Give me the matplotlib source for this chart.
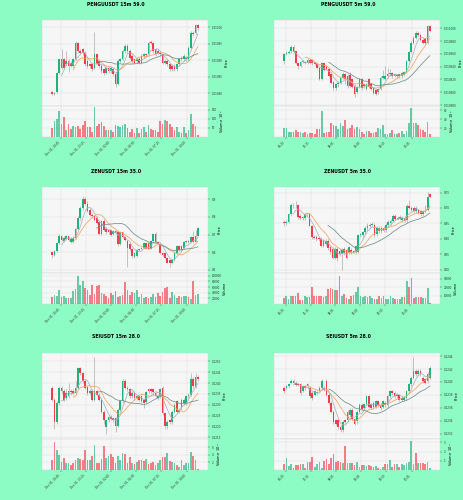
import matplotlib
matplotlib.use("Agg")
import matplotlib.pyplot as plt
import numpy as np
import pandas as pd
from matplotlib.ticker import MultipleLocator, FormatStrFormatter, FixedLocator

# ---------------- data ----------------
titles = ["PENGUUSDT 15m 59.0", "PENGUUSDT 5m 59.0",
          "ZENUSDT 15m 35.0", "ZENUSDT 5m 35.0",
          "SEIUSDT 15m 28.0", "SEIUSDT 5m 28.0"]

labels_15m = ["Dec 01, 20:45", "Dec 01, 23:15", "Dec 02, 02:00",
              "Dec 02, 04:30", "Dec 02, 07:15", "Dec 02, 10:00"]
labels_5m = ["06:20", "07:15", "08:05", "09:00", "09:50", "10:45"]

# PENGUUSDT 15m
p1_open = [0.010804, 0.010798, 0.010804, 0.010863, 0.010878, 0.010903, 0.010888, 0.010898, 0.010893, 0.010883,
           0.010903, 0.010952, 0.010928, 0.010933, 0.010923, 0.010898, 0.010888, 0.010888, 0.010878, 0.010918,
           0.010898, 0.010883, 0.010873, 0.010863, 0.010878, 0.010868, 0.010873, 0.010858, 0.010829, 0.010898,
           0.010903, 0.010928, 0.010943, 0.010928, 0.010913, 0.010903, 0.010898, 0.010905, 0.010893, 0.010913,
           0.010918, 0.010918, 0.010957, 0.010952, 0.010933, 0.010928, 0.010923, 0.010918, 0.010893, 0.010898,
           0.010888, 0.010883, 0.010883, 0.010873, 0.010888, 0.010908, 0.010903, 0.010908, 0.010903, 0.010938,
           0.010982, 0.010982, 0.011007]
p1_close = [0.010798, 0.010801, 0.010863, 0.010903, 0.010903, 0.010878, 0.010898, 0.010883, 0.010883, 0.010903,
            0.010952, 0.010928, 0.010923, 0.010923, 0.010888, 0.010883, 0.010883, 0.010873, 0.010918, 0.010893,
            0.010883, 0.010868, 0.010863, 0.010878, 0.010868, 0.010878, 0.010858, 0.010829, 0.010898, 0.010903,
            0.010928, 0.010943, 0.010928, 0.010908, 0.010898, 0.010893, 0.010905, 0.010893, 0.010913, 0.010918,
            0.010915, 0.010952, 0.010952, 0.010928, 0.010918, 0.010923, 0.010918, 0.010893, 0.010898, 0.010888,
            0.010873, 0.010873, 0.010873, 0.010888, 0.010903, 0.010903, 0.010913, 0.010903, 0.010938, 0.010982,
            0.010980, 0.011007, 0.010997]
p1_high = [0.010806, 0.010803, 0.010866, 0.010906, 0.010933, 0.010906, 0.010928, 0.010903, 0.010898, 0.010908,
           0.010960, 0.010955, 0.010933, 0.010938, 0.010928, 0.010903, 0.010893, 0.010893, 0.010987, 0.010923,
           0.010903, 0.010888, 0.010878, 0.010883, 0.010883, 0.010883, 0.010878, 0.010863, 0.010903, 0.010908,
           0.010933, 0.010948, 0.010948, 0.010933, 0.010918, 0.010908, 0.010910, 0.010910, 0.010918, 0.010923,
           0.010923, 0.010958, 0.010962, 0.010957, 0.010938, 0.010933, 0.010928, 0.010923, 0.010903, 0.010903,
           0.010893, 0.010888, 0.010888, 0.010893, 0.010908, 0.010913, 0.010918, 0.010913, 0.010943, 0.010988,
           0.010990, 0.011010, 0.011010]
p1_low = [0.010794, 0.010796, 0.010802, 0.010860, 0.010875, 0.010873, 0.010883, 0.010865, 0.010880, 0.010880,
          0.010900, 0.010923, 0.010918, 0.010915, 0.010883, 0.010878, 0.010878, 0.010868, 0.010873, 0.010888,
          0.010878, 0.010863, 0.010855, 0.010858, 0.010863, 0.010863, 0.010853, 0.010820, 0.010825, 0.010893,
          0.010900, 0.010923, 0.010923, 0.010903, 0.010893, 0.010888, 0.010893, 0.010888, 0.010888, 0.010908,
          0.010910, 0.010913, 0.010948, 0.010923, 0.010913, 0.010918, 0.010913, 0.010888, 0.010888, 0.010883,
          0.010868, 0.010868, 0.010868, 0.010868, 0.010883, 0.010898, 0.010898, 0.010898, 0.010898, 0.010933,
          0.010975, 0.010978, 0.010993]
p1_vol = [50, 90, 98, 140, 69, 110, 38, 72, 46, 58, 55, 58, 46, 64, 86, 55, 55, 30, 162, 60,
          69, 84, 58, 38, 38, 41, 26, 64, 60, 55, 67, 69, 50, 29, 46, 21, 50, 24, 46, 55,
          29, 64, 46, 38, 41, 29, 86, 69, 93, 86, 69, 55, 38, 55, 29, 21, 55, 21, 38, 127,
          72, 60, 12]

# PENGUUSDT 5m
p2_open = [0.010949, 0.010960, 0.010962, 0.010964, 0.010971, 0.010964, 0.010946, 0.010941, 0.010947, 0.010947,
           0.010945, 0.010951, 0.010951, 0.010946, 0.010944, 0.010938, 0.010921, 0.010945, 0.010941, 0.010936,
           0.010928, 0.010916, 0.010906, 0.010913, 0.010915, 0.010922, 0.010928, 0.010926, 0.010927, 0.010921,
           0.010910, 0.010900, 0.010908, 0.010921, 0.010913, 0.010905, 0.010921, 0.010913, 0.010906, 0.010903,
           0.010900, 0.010905, 0.010923, 0.010921, 0.010925, 0.010928, 0.010930, 0.010926, 0.010925, 0.010928,
           0.010925, 0.010927, 0.010932, 0.010949, 0.010963, 0.010977, 0.010985, 0.010992, 0.010990, 0.010982,
           0.010983, 0.010977, 0.011003]
p2_close = [0.010959, 0.010962, 0.010963, 0.010971, 0.010963, 0.010946, 0.010941, 0.010947, 0.010949, 0.010946,
            0.010951, 0.010946, 0.010945, 0.010944, 0.010938, 0.010921, 0.010945, 0.010935, 0.010936, 0.010926,
            0.010915, 0.010906, 0.010913, 0.010915, 0.010922, 0.010928, 0.010921, 0.010909, 0.010910, 0.010908,
            0.010897, 0.010908, 0.010921, 0.010906, 0.010910, 0.010913, 0.010908, 0.010905, 0.010899, 0.010897,
            0.010905, 0.010923, 0.010925, 0.010926, 0.010928, 0.010930, 0.010925, 0.010928, 0.010927, 0.010926,
            0.010930, 0.010931, 0.010949, 0.010963, 0.010977, 0.010985, 0.010992, 0.010990, 0.010982, 0.010977,
            0.010977, 0.011003, 0.010996]
p2_high = [0.010962, 0.010964, 0.010966, 0.010973, 0.010973, 0.010965, 0.010947, 0.010949, 0.010951, 0.010949,
           0.010953, 0.010953, 0.010952, 0.010947, 0.010945, 0.010940, 0.010947, 0.010946, 0.010942, 0.010937,
           0.010930, 0.010918, 0.010915, 0.010917, 0.010924, 0.010931, 0.010930, 0.010928, 0.010931, 0.010923,
           0.010913, 0.010910, 0.010923, 0.010923, 0.010915, 0.010915, 0.010923, 0.010915, 0.010908, 0.010905,
           0.010907, 0.010925, 0.010935, 0.010941, 0.010938, 0.010936, 0.010932, 0.010930, 0.010929, 0.010930,
           0.010932, 0.010933, 0.010951, 0.010965, 0.010980, 0.010988, 0.010995, 0.010995, 0.010993, 0.010984,
           0.010985, 0.011005, 0.011005]
p2_low = [0.010944, 0.010958, 0.010960, 0.010962, 0.010961, 0.010944, 0.010936, 0.010939, 0.010945, 0.010944,
          0.010944, 0.010944, 0.010943, 0.010942, 0.010936, 0.010919, 0.010919, 0.010933, 0.010934, 0.010924,
          0.010913, 0.010903, 0.010903, 0.010908, 0.010913, 0.010921, 0.010913, 0.010906, 0.010908, 0.010906,
          0.010892, 0.010897, 0.010906, 0.010903, 0.010906, 0.010903, 0.010906, 0.010903, 0.010897, 0.010895,
          0.010897, 0.010903, 0.010921, 0.010919, 0.010923, 0.010926, 0.010922, 0.010924, 0.010922, 0.010923,
          0.010923, 0.010925, 0.010930, 0.010947, 0.010961, 0.010975, 0.010983, 0.010987, 0.010980, 0.010975,
          0.010973, 0.010975, 0.010994]
p2_vol = [21, 21, 11, 12, 11, 16, 12, 12, 9, 11, 7, 9, 9, 7, 18, 18, 59, 9, 12, 11,
          31, 27, 25, 19, 31, 24, 38, 18, 21, 27, 18, 23, 18, 11, 7, 14, 13, 9, 9, 11,
          21, 18, 27, 7, 6, 9, 16, 6, 6, 9, 14, 6, 14, 32, 66, 31, 31, 27, 18, 16,
          12, 34, 6]

# ZENUSDT 15m
p3_open = [8.600, 8.586, 8.606, 8.651, 8.690, 8.665, 8.675, 8.690, 8.655, 8.655,
           8.678, 8.733, 8.792, 8.851, 8.900, 8.875, 8.841, 8.812, 8.802, 8.792,
           8.773, 8.704, 8.776, 8.733, 8.724, 8.724, 8.704, 8.718, 8.714, 8.645,
           8.714, 8.684, 8.665, 8.645, 8.620, 8.573, 8.576, 8.612, 8.620, 8.625,
           8.651, 8.651, 8.620, 8.665, 8.704, 8.655, 8.641, 8.596, 8.596, 8.567,
           8.557, 8.537, 8.557, 8.596, 8.635, 8.635, 8.625, 8.655, 8.665, 8.655,
           8.684, 8.659, 8.694]
p3_close = [8.586, 8.606, 8.651, 8.690, 8.671, 8.678, 8.690, 8.671, 8.675, 8.678,
            8.733, 8.792, 8.851, 8.900, 8.875, 8.831, 8.812, 8.802, 8.782, 8.763,
            8.704, 8.776, 8.724, 8.714, 8.714, 8.698, 8.718, 8.710, 8.645, 8.714,
            8.684, 8.671, 8.625, 8.616, 8.576, 8.596, 8.612, 8.620, 8.625, 8.651,
            8.620, 8.620, 8.665, 8.704, 8.655, 8.651, 8.596, 8.586, 8.567, 8.541,
            8.537, 8.557, 8.596, 8.635, 8.612, 8.612, 8.659, 8.665, 8.655, 8.684,
            8.655, 8.694, 8.737]
p3_high = [8.606, 8.612, 8.655, 8.704, 8.694, 8.694, 8.698, 8.694, 8.684, 8.690,
           8.737, 8.802, 8.860, 8.920, 8.910, 8.890, 8.851, 8.822, 8.812, 8.802,
           8.782, 8.782, 8.786, 8.743, 8.733, 8.733, 8.724, 8.724, 8.724, 8.718,
           8.718, 8.690, 8.671, 8.651, 8.625, 8.600, 8.616, 8.625, 8.631, 8.655,
           8.655, 8.655, 8.671, 8.710, 8.714, 8.659, 8.645, 8.600, 8.600, 8.573,
           8.561, 8.561, 8.600, 8.641, 8.641, 8.641, 8.665, 8.671, 8.671, 8.690,
           8.718, 8.724, 8.743]
p3_low = [8.567, 8.580, 8.600, 8.645, 8.665, 8.659, 8.671, 8.665, 8.651, 8.651,
          8.675, 8.724, 8.782, 8.841, 8.865, 8.825, 8.802, 8.792, 8.776, 8.757,
          8.698, 8.698, 8.718, 8.704, 8.704, 8.690, 8.698, 8.704, 8.635, 8.641,
          8.678, 8.665, 8.518, 8.606, 8.567, 8.567, 8.573, 8.606, 8.616, 8.620,
          8.616, 8.616, 8.616, 8.659, 8.651, 8.645, 8.590, 8.580, 8.561, 8.537,
          8.518, 8.531, 8.551, 8.590, 8.606, 8.606, 8.620, 8.651, 8.651, 8.651,
          8.651, 8.655, 8.690]
p3_vol = [24000, 32000, 30000, 48000, 25000, 27000, 21500, 21500, 21500, 45000,
          54000, 99000, 67000, 81000, 56000, 51000, 32000, 68000, 34000, 65000,
          68000, 39000, 34000, 27000, 21500, 40000, 32000, 45000, 24000, 30000,
          32000, 77000, 51000, 32000, 43000, 38000, 48000, 24000, 34000, 21500,
          24000, 21500, 24000, 35500, 24000, 38000, 29000, 43000, 56000, 59000,
          21500, 41000, 32000, 21500, 27000, 24000, 27000, 27000, 24000, 19000,
          80000, 32000, 36500]

# ZENUSDT 5m
p4_open = [8.654, 8.651, 8.654, 8.679, 8.710, 8.709, 8.710, 8.673, 8.670, 8.667,
           8.679, 8.679, 8.640, 8.606, 8.606, 8.603, 8.600, 8.578, 8.584, 8.592,
           8.573, 8.567, 8.539, 8.567, 8.561, 8.550, 8.567, 8.565, 8.556, 8.565,
           8.561, 8.558, 8.558, 8.612, 8.612, 8.621, 8.634, 8.640, 8.645, 8.645,
           8.614, 8.634, 8.625, 8.634, 8.628, 8.645, 8.651, 8.659, 8.673, 8.665,
           8.665, 8.662, 8.667, 8.662, 8.707, 8.701, 8.701, 8.690, 8.692, 8.690,
           8.679, 8.690, 8.695, 8.746]
p4_close = [8.651, 8.654, 8.679, 8.710, 8.709, 8.708, 8.670, 8.667, 8.667, 8.679,
            8.681, 8.643, 8.606, 8.603, 8.600, 8.598, 8.578, 8.592, 8.594, 8.569,
            8.556, 8.539, 8.567, 8.539, 8.550, 8.565, 8.554, 8.539, 8.573, 8.558,
            8.558, 8.576, 8.612, 8.614, 8.621, 8.634, 8.643, 8.645, 8.647, 8.612,
            8.634, 8.625, 8.634, 8.628, 8.645, 8.656, 8.659, 8.673, 8.665, 8.667,
            8.670, 8.667, 8.659, 8.707, 8.701, 8.695, 8.690, 8.701, 8.684, 8.679,
            8.690, 8.695, 8.737, 8.737]
p4_high = [8.662, 8.660, 8.684, 8.715, 8.715, 8.722, 8.712, 8.680, 8.675, 8.684,
           8.686, 8.684, 8.645, 8.611, 8.611, 8.606, 8.606, 8.598, 8.600, 8.598,
           8.578, 8.573, 8.573, 8.573, 8.567, 8.569, 8.573, 8.569, 8.578, 8.569,
           8.565, 8.581, 8.617, 8.620, 8.626, 8.640, 8.650, 8.651, 8.654, 8.650,
           8.640, 8.640, 8.640, 8.640, 8.651, 8.662, 8.665, 8.679, 8.679, 8.673,
           8.676, 8.673, 8.673, 8.712, 8.725, 8.707, 8.707, 8.707, 8.698, 8.695,
           8.695, 8.710, 8.752, 8.750]
p4_low = [8.640, 8.645, 8.651, 8.673, 8.700, 8.700, 8.665, 8.662, 8.660, 8.662,
          8.673, 8.640, 8.600, 8.598, 8.594, 8.592, 8.572, 8.572, 8.578, 8.565,
          8.550, 8.533, 8.533, 8.528, 8.544, 8.500, 8.548, 8.533, 8.550, 8.552,
          8.554, 8.552, 8.554, 8.606, 8.606, 8.615, 8.628, 8.634, 8.640, 8.606,
          8.609, 8.620, 8.620, 8.623, 8.623, 8.640, 8.645, 8.654, 8.660, 8.660,
          8.660, 8.656, 8.654, 8.656, 8.696, 8.690, 8.684, 8.684, 8.679, 8.673,
          8.673, 8.684, 8.690, 8.733]
p4_vol = [7400, 9000, 6000, 10000, 10000, 10000, 13000, 5000, 5000, 10000,
          8000, 8000, 20000, 9000, 9500, 9500, 10000, 8000, 9500, 18000,
          19500, 18000, 17000, 17000, 33000, 9000, 12000, 7000, 6000, 9000,
          11000, 14000, 20000, 9000, 8000, 10000, 8000, 10000, 7000, 6000,
          5500, 9000, 7500, 9000, 6000, 5500, 9000, 7500, 6000, 5500,
          6000, 8000, 8500, 28000, 20000, 31000, 7000, 8500, 8500, 8000,
          7000, 7500, 19500, 1500]

# SEIUSDT 15m
p5_open = [0.12379, 0.12323, 0.12221, 0.12308, 0.12379, 0.12363, 0.12331, 0.12339, 0.12363, 0.12363,
           0.12355, 0.12379, 0.12470, 0.12445, 0.12410, 0.12382, 0.12355, 0.12363, 0.12323, 0.12363,
           0.12347, 0.12323, 0.12268, 0.12197, 0.12229, 0.12245, 0.12240, 0.12240, 0.12202, 0.12276,
           0.12316, 0.12410, 0.12379, 0.12371, 0.12339, 0.12355, 0.12331, 0.12339, 0.12339, 0.12323,
           0.12312, 0.12371, 0.12371, 0.12371, 0.12339, 0.12331, 0.12339, 0.12379, 0.12260, 0.12202,
           0.12229, 0.12221, 0.12268, 0.12316, 0.12268, 0.12284, 0.12308, 0.12308, 0.12339, 0.12347,
           0.12418, 0.12382, 0.12426]
p5_close = [0.12323, 0.12221, 0.12308, 0.12379, 0.12363, 0.12323, 0.12355, 0.12363, 0.12360, 0.12355,
            0.12379, 0.12470, 0.12445, 0.12410, 0.12379, 0.12355, 0.12363, 0.12323, 0.12363, 0.12347,
            0.12323, 0.12268, 0.12229, 0.12229, 0.12245, 0.12234, 0.12229, 0.12202, 0.12276, 0.12316,
            0.12410, 0.12379, 0.12371, 0.12339, 0.12355, 0.12331, 0.12339, 0.12323, 0.12316, 0.12308,
            0.12360, 0.12363, 0.12363, 0.12360, 0.12355, 0.12339, 0.12371, 0.12260, 0.12202, 0.12221,
            0.12221, 0.12268, 0.12300, 0.12268, 0.12276, 0.12323, 0.12323, 0.12339, 0.12347, 0.12418,
            0.12387, 0.12426, 0.12418]
p5_high = [0.12387, 0.12331, 0.12316, 0.12387, 0.12387, 0.12371, 0.12371, 0.12402, 0.12371, 0.12371,
           0.12410, 0.12473, 0.12473, 0.12453, 0.12418, 0.12387, 0.12371, 0.12371, 0.12521, 0.12371,
           0.12355, 0.12331, 0.12276, 0.12234, 0.12253, 0.12253, 0.12245, 0.12245, 0.12284, 0.12323,
           0.12418, 0.12418, 0.12387, 0.12379, 0.12363, 0.12363, 0.12347, 0.12347, 0.12347, 0.12331,
           0.12363, 0.12379, 0.12379, 0.12379, 0.12363, 0.12347, 0.12379, 0.12387, 0.12268, 0.12229,
           0.12234, 0.12276, 0.12308, 0.12323, 0.12284, 0.12331, 0.12331, 0.12347, 0.12355, 0.12445,
           0.12426, 0.12445, 0.12437]
p5_low = [0.12316, 0.12189, 0.12213, 0.12300, 0.12355, 0.12316, 0.12323, 0.12331, 0.12347, 0.12347,
          0.12347, 0.12371, 0.12437, 0.12402, 0.12371, 0.12347, 0.12347, 0.12316, 0.12316, 0.12339,
          0.12316, 0.12260, 0.12213, 0.12166, 0.12221, 0.12229, 0.12221, 0.12174, 0.12197, 0.12268,
          0.12308, 0.12371, 0.12363, 0.12331, 0.12331, 0.12323, 0.12323, 0.12316, 0.12308, 0.12284,
          0.12308, 0.12355, 0.12355, 0.12347, 0.12331, 0.12323, 0.12331, 0.12253, 0.12189, 0.12189,
          0.12213, 0.12213, 0.12260, 0.12260, 0.12260, 0.12276, 0.12300, 0.12300, 0.12331, 0.12339,
          0.12379, 0.12379, 0.12410]
p5_vol = [2.5, 7.4, 5.1, 3.8, 2.2, 3.1, 1.7, 1.8, 1.3, 1.8,
          2.5, 3.1, 2.9, 2.5, 5.2, 2.5, 2.5, 3.7, 6.6, 1.9,
          1.9, 2.9, 6.2, 3.1, 3.7, 4.1, 3.3, 1.7, 3.7, 2.5,
          4.5, 4.2, 1.7, 3.3, 1.9, 1.5, 2.1, 2.5, 2.5, 2.3,
          2.9, 1.5, 1.8, 2.1, 1.3, 1.8, 2.5, 3.3, 3.4, 4.4,
          2.3, 2.1, 1.7, 1.3, 0.9, 2.5, 1.3, 1.7, 1.7, 4.7,
          3.7, 2.5, 0.2]

# SEIUSDT 5m
p6_open = [0.123910, 0.123910, 0.123936, 0.123989, 0.124015, 0.123989, 0.123973, 0.123973, 0.123858, 0.123936,
           0.123973, 0.123910, 0.123831, 0.123805, 0.123831, 0.123858, 0.123910, 0.123910, 0.124015, 0.123805,
           0.123673, 0.123542, 0.123410, 0.123410, 0.123305, 0.123253, 0.123410, 0.123410, 0.123489, 0.123568,
           0.123426, 0.123395, 0.123542, 0.123647, 0.123595, 0.123658, 0.123779, 0.123658, 0.123673, 0.123621,
           0.123700, 0.123647, 0.123621, 0.123673, 0.123647, 0.123779, 0.123868, 0.123831, 0.123779, 0.123794,
           0.123726, 0.123726, 0.123752, 0.123858, 0.123973, 0.124068, 0.124173, 0.124121, 0.124173, 0.124068,
           0.124042, 0.124015, 0.124068]
p6_close = [0.123868, 0.123936, 0.123963, 0.124015, 0.123989, 0.123952, 0.123952, 0.123831, 0.123936, 0.123910,
            0.123936, 0.123779, 0.123752, 0.123858, 0.123847, 0.123910, 0.124015, 0.123884, 0.123805, 0.123673,
            0.123542, 0.123384, 0.123358, 0.123305, 0.123253, 0.123384, 0.123384, 0.123542, 0.123568, 0.123426,
            0.123358, 0.123542, 0.123647, 0.123584, 0.123658, 0.123779, 0.123621, 0.123605, 0.123621, 0.123700,
            0.123647, 0.123595, 0.123700, 0.123647, 0.123779, 0.123868, 0.123831, 0.123779, 0.123805, 0.123726,
            0.123752, 0.123752, 0.123858, 0.123973, 0.124068, 0.124173, 0.124121, 0.124173, 0.124121, 0.124015,
            0.123989, 0.124121, 0.124215]
p6_high = [0.123936, 0.123952, 0.123989, 0.124042, 0.124042, 0.124015, 0.123989, 0.123989, 0.123952, 0.123952,
           0.123989, 0.123936, 0.123858, 0.123884, 0.123868, 0.123936, 0.124042, 0.123936, 0.124042, 0.123831,
           0.123700, 0.123568, 0.123426, 0.123426, 0.123330, 0.123410, 0.123426, 0.123568, 0.123595, 0.123595,
           0.123452, 0.123568, 0.123673, 0.123673, 0.123673, 0.123805, 0.123805, 0.123673, 0.123700, 0.123726,
           0.123726, 0.123673, 0.123726, 0.123700, 0.123805, 0.123884, 0.123884, 0.123858, 0.123831, 0.123805,
           0.123779, 0.123779, 0.123884, 0.123989, 0.124095, 0.124380, 0.124200, 0.124200, 0.124200, 0.124095,
           0.124068, 0.124147, 0.124250]
p6_low = [0.123831, 0.123884, 0.123910, 0.123963, 0.123963, 0.123936, 0.123936, 0.123805, 0.123847, 0.123884,
          0.123910, 0.123752, 0.123726, 0.123779, 0.123805, 0.123847, 0.123884, 0.123858, 0.123779, 0.123647,
          0.123515, 0.123358, 0.123330, 0.123280, 0.123226, 0.123226, 0.123358, 0.123384, 0.123463, 0.123410,
          0.123330, 0.123358, 0.123515, 0.123568, 0.123568, 0.123647, 0.123595, 0.123584, 0.123595, 0.123595,
          0.123621, 0.123568, 0.123595, 0.123621, 0.123621, 0.123752, 0.123805, 0.123752, 0.123752, 0.123700,
          0.123700, 0.123700, 0.123726, 0.123831, 0.123936, 0.124042, 0.124095, 0.124095, 0.124095, 0.123989,
          0.123963, 0.123989, 0.124042]
p6_vol = [0.7, 1.27, 0.43, 0.6, 0.27, 0.53, 0.53, 0.7, 0.7, 0.27,
          0.87, 0.87, 1.37, 0.37, 0.7, 0.87, 0.27, 1.03, 1.2, 0.7,
          1.27, 1.7, 0.87, 1.03, 0.87, 0.77, 2.6, 0.77, 0.77, 0.77,
          0.53, 0.87, 0.37, 0.53, 0.53, 0.43, 0.53, 0.43, 0.37, 0.43,
          0.27, 0.1, 0.37, 0.7, 0.63, 1.1, 0.37, 0.63, 0.63, 0.37,
          0.7, 0.53, 0.77, 0.87, 3.1, 0.63, 1.83, 0.77, 0.77, 0.77,
          0.7, 0.87, 0.27]

# ---------------- style ----------------
BG = "#8dfcc4"
FACE = "#f6f6f6"
GRID = "#dedede"
UP = "#1db37a"
DOWN = "#f23c4c"
WICK = "#9a9a9a"
MA_COLORS = ["#a8b2bb", "#f2a45e", "#6f8f8c"]
MA_WINDOWS = [5, 10, 20]

W, H = 464, 500
fig = plt.figure(figsize=(W / 100, H / 100), dpi=100, facecolor=BG)


def rect(x, y, w, h):
    return [x / W, 1 - (y + h) / H, w / W, h / H]


panels = [
    dict(o=p1_open, c=p1_close, h=p1_high, l=p1_low, v=p1_vol, col=0, row=0,
         ylim=(0.010762, 0.011022), ystep=0.00005, yfmt="%.5f",
         vlim=170, vticks=[50, 100, 150], vlabel="Volume  $10^{6}$",
         xt=[3.7, 14.4, 25.1, 35.7, 46.3, 57.3], xl=labels_15m),
    dict(o=p2_open, c=p2_close, h=p2_high, l=p2_low, v=p2_vol, col=1, row=0,
         ylim=(0.0108785, 0.0110128), ystep=0.00002, yfmt="%.6f",
         vlim=70, vticks=[20, 40, 60], vlabel="Volume  $10^{6}$",
         xt=[1.0, 11.6, 22.2, 32.9, 43.5, 54.2], xl=labels_5m),
    dict(o=p3_open, c=p3_close, h=p3_high, l=p3_low, v=p3_vol, col=0, row=1,
         ylim=(8.482, 8.969), ystep=0.1, yfmt="%.1f",
         vlim=110000, vticks=[20000, 40000, 60000, 80000, 100000], vlabel="Volume",
         xt=[3.7, 14.4, 25.1, 35.7, 46.3, 57.3], xl=labels_15m),
    dict(o=p4_open, c=p4_close, h=p4_high, l=p4_low, v=p4_vol, col=1, row=1,
         ylim=(8.489, 8.768), ystep=0.05, yfmt="%.2f",
         vlim=37000, vticks=[10000, 20000, 30000], vlabel="Volume",
         xt=[1.0, 11.6, 22.2, 32.9, 43.5, 54.2], xl=labels_5m),
    dict(o=p5_open, c=p5_close, h=p5_high, l=p5_low, v=p5_vol, col=0, row=2,
         ylim=(0.12142, 0.12539), ystep=0.0005, yfmt="%.4f",
         vlim=8.1, vticks=[2, 4, 6], vlabel="Volume  $10^{6}$",
         xt=[3.7, 14.4, 25.1, 35.7, 46.3, 57.3], xl=labels_15m),
    dict(o=p6_open, c=p6_close, h=p6_high, l=p6_low, v=p6_vol, col=1, row=2,
         ylim=(0.123121, 0.124447), ystep=0.0002, yfmt="%.4f",
         vlim=3.37, vticks=[1, 2, 3], vlabel="Volume  $10^{6}$",
         xt=[1.0, 11.6, 22.2, 32.9, 43.5, 54.2], xl=labels_5m),
]

COL_X = [42, 274]
ROW_TOP = [20, 187, 353]
AX_W = 166
PRICE_H = 86
VOL_H = 31
TICK_FS = 2.0
LAB_FS = 2.5


def style_axis(ax):
    ax.set_facecolor(FACE)
    for s in ax.spines.values():
        s.set_color("#d4d4d4")
        s.set_linewidth(0.3)
    ax.grid(True, color=GRID, linewidth=0.35)
    ax.set_axisbelow(True)
    ax.yaxis.tick_right()
    ax.yaxis.set_label_position("right")
    ax.tick_params(axis="both", labelsize=TICK_FS, length=1.5, width=0.3,
                   pad=1.0, colors="#333333")


for i, p in enumerate(panels):
    o = np.array(p["o"]); c = np.array(p["c"])
    hi = np.array(p["h"]); lo = np.array(p["l"])
    v = np.array(p["v"])
    n = len(o)
    idx = np.arange(n)
    up = c >= o
    colors = np.where(up, UP, DOWN)

    x0 = COL_X[p["col"]]
    top = ROW_TOP[p["row"]]
    ax = fig.add_axes(rect(x0, top, AX_W, PRICE_H))
    axv = fig.add_axes(rect(x0, top + PRICE_H, AX_W, VOL_H), sharex=ax)
    style_axis(ax)
    style_axis(axv)

    yr = p["ylim"][1] - p["ylim"][0]
    body = np.maximum(np.abs(c - o), yr * 0.004)
    ax.vlines(idx, lo, hi, color=WICK, linewidth=0.4, zorder=2)
    ax.bar(idx, body, bottom=np.minimum(o, c), width=0.72, color=colors,
           linewidth=0, zorder=3)
    s = pd.Series(c)
    for w, mc in zip(MA_WINDOWS, MA_COLORS):
        ax.plot(idx, s.rolling(w).mean(), color=mc, linewidth=0.55, zorder=4)

    axv.bar(idx, v, width=0.72, color=colors, alpha=0.65, linewidth=0, zorder=3)

    ax.set_xlim(-4.3, n - 1 + 4.3)
    ax.set_ylim(*p["ylim"])
    ax.yaxis.set_major_locator(MultipleLocator(p["ystep"]))
    ax.yaxis.set_major_formatter(FormatStrFormatter(p["yfmt"]))
    ax.set_ylabel("Price", fontsize=LAB_FS, labelpad=1.5)

    axv.set_ylim(0, p["vlim"])
    axv.yaxis.set_major_locator(FixedLocator(p["vticks"]))
    axv.yaxis.set_major_formatter(FormatStrFormatter("%g"))
    axv.set_ylabel(p["vlabel"], fontsize=LAB_FS, labelpad=1.5)

    axv.set_xticks(p["xt"])
    axv.set_xticklabels(p["xl"], rotation=45, ha="right", fontsize=TICK_FS)
    plt.setp(ax.get_xticklabels(), visible=False)

    cx = (116 + 232 * p["col"]) / W
    fig.text(cx, 1 - (top - 16) / H, titles[i], ha="center", va="center",
             fontsize=3.3, fontweight="bold")

fig.savefig("out.png", dpi=100, facecolor=BG)
